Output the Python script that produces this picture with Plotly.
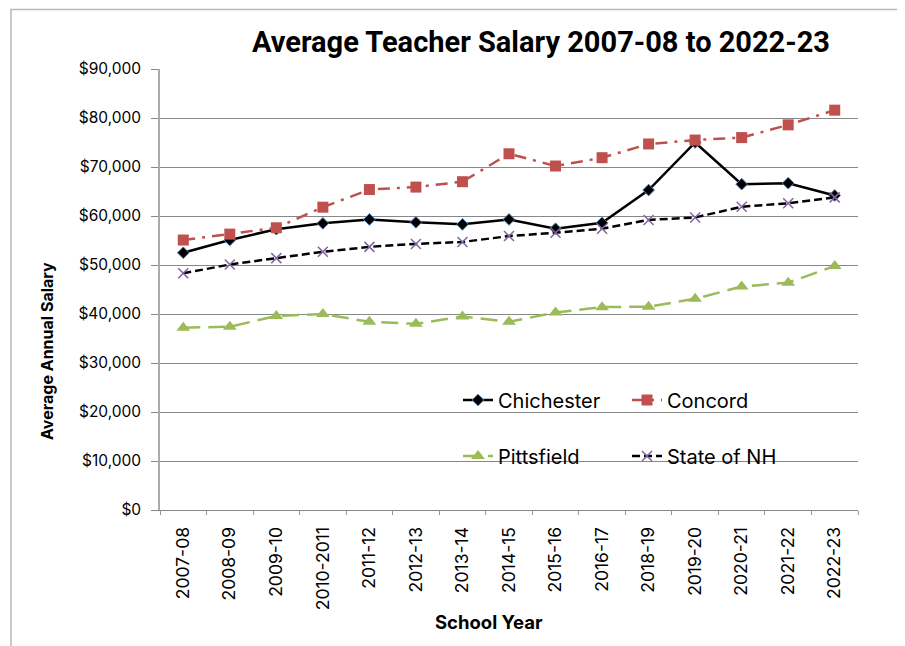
import plotly.graph_objects as go

years = ["2007-08", "2008-09", "2009-10", "2010-2011", "2011-12", "2012-13", "2013-14",
         "2014-15", "2015-16", "2016-17", "2018-19", "2019-20", "2020-21", "2021-22", "2022-23"]
chichester = [52500, 55100, 57300, 58500, 59300, 58700, 58300, 59300, 57400, 58600,
              65300, 75000, 66500, 66700, 64200]
concord = [55100, 56300, 57600, 61800, 65400, 65900, 67000, 72700, 70200, 71900,
           74700, 75500, 76000, 78600, 81600]
pittsfield = [37200, 37400, 39600, 40000, 38400, 38000, 39500, 38400, 40300, 41400,
              41500, 43100, 45600, 46400, 49800]
state_nh = [48300, 50100, 51400, 52700, 53700, 54300, 54700, 55900, 56600, 57400,
            59200, 59700, 61900, 62600, 63800]

FONT = "Inter"
fig = go.Figure()
fig.add_trace(go.Scatter(
    x=years, y=chichester, name="Chichester", mode="lines+markers",
    line=dict(color="black", width=2.5),
    marker=dict(symbol="diamond", size=9, color="black", line=dict(color="#4f81bd", width=1)),
    legend="legend"))
fig.add_trace(go.Scatter(
    x=years, y=concord, name="Concord", mode="lines+markers",
    line=dict(color="#c0504d", width=2.5, dash="12px,7px,3px,7px"),
    marker=dict(symbol="square", size=11, color="#c0504d"),
    legend="legend"))
fig.add_trace(go.Scatter(
    x=years, y=pittsfield, name="Pittsfield", mode="lines+markers",
    line=dict(color="#9bbb59", width=2.5, dash="17px,8px"),
    marker=dict(symbol="triangle-up", size=12, color="#9bbb59"),
    legend="legend2"))
fig.add_trace(go.Scatter(
    x=years, y=state_nh, name="State of NH", mode="lines+markers",
    line=dict(color="black", width=2.5, dash="8px,4px"),
    marker=dict(symbol="x-thin", size=10, line=dict(color="#8064a2", width=1.5)),
    legend="legend2"))

# page has an 8px body margin; work in page coordinates and convert
OFF = 8
PW, PH = 905, 646
W, H = PW - OFF, PH - OFF
PL, PR, PT, PB = 160, 858, 69, 510       # plot area in page px
L, T = PL - OFF, PT - OFF
R, B = W - (PR - OFF), H - (PB - OFF)
pw, ph = PR - PL, PB - PT

def px(xp):
    return (xp - PL) / pw

def py(yp):
    return (PB - yp) / ph

leg = dict(orientation="h", xanchor="left", yanchor="middle", entrywidth=124,
           font=dict(family=FONT, size=20, color="black"), bgcolor="rgba(0,0,0,0)",
           itemwidth=30)

fig.update_layout(
    width=W, height=H,
    margin=dict(l=L, r=R, t=T, b=B),
    paper_bgcolor="white", plot_bgcolor="white",
    font=dict(family=FONT, color="black"),
    title=dict(text="<b>Average Teacher Salary 2007-08 to 2022-23</b>",
               font=dict(family="Roboto", size=29, color="black"),
               x=(541 - OFF) / W, xanchor="center", y=1 - (42 - OFF) / H, yanchor="middle"),
    legend=dict(leg, x=px(458), y=py(400)),
    legend2=dict(leg, x=px(458), y=py(456)),
    showlegend=True,
    xaxis=dict(type="category", range=[-0.5, len(years) - 0.5],
               tickson="boundaries", ticks="outside", ticklen=4, tickcolor="#999",
               showline=True, linecolor="#888", linewidth=1, showgrid=False,
               tickangle=-90, ticklabelstandoff=9,
               tickfont=dict(family=FONT, size=17.5, color="black")),
    yaxis=dict(range=[0, 90000], dtick=10000, tickformat="$,.0f",
               showgrid=True, gridcolor="#888", gridwidth=1,
               showline=True, linecolor="#aaa", linewidth=1.5,
               ticks="outside", ticklen=7, tickcolor="#888", ticklabelstandoff=7,
               tickfont=dict(family=FONT, size=15.5, color="black"),
               zeroline=False),
    shapes=[dict(type="rect", xref="paper", yref="paper",
                 x0=px(11), x1=px(899), y0=py(720), y1=py(9.5),
                 line=dict(color="#b8b8b8", width=1.5), layer="below")],
    annotations=[
        dict(text="<b>Average Annual Salary</b>", textangle=-90,
             xref="paper", yref="paper", x=px(47), y=py(351),
             xanchor="center", yanchor="middle", showarrow=False,
             font=dict(family=FONT, size=16, color="black")),
        dict(text="<b>School Year</b>",
             xref="paper", yref="paper", x=px(489), y=py(622),
             xanchor="center", yanchor="middle", showarrow=False,
             font=dict(family=FONT, size=18.5, color="black")),
    ],
)

fig.write_html("out.html")
